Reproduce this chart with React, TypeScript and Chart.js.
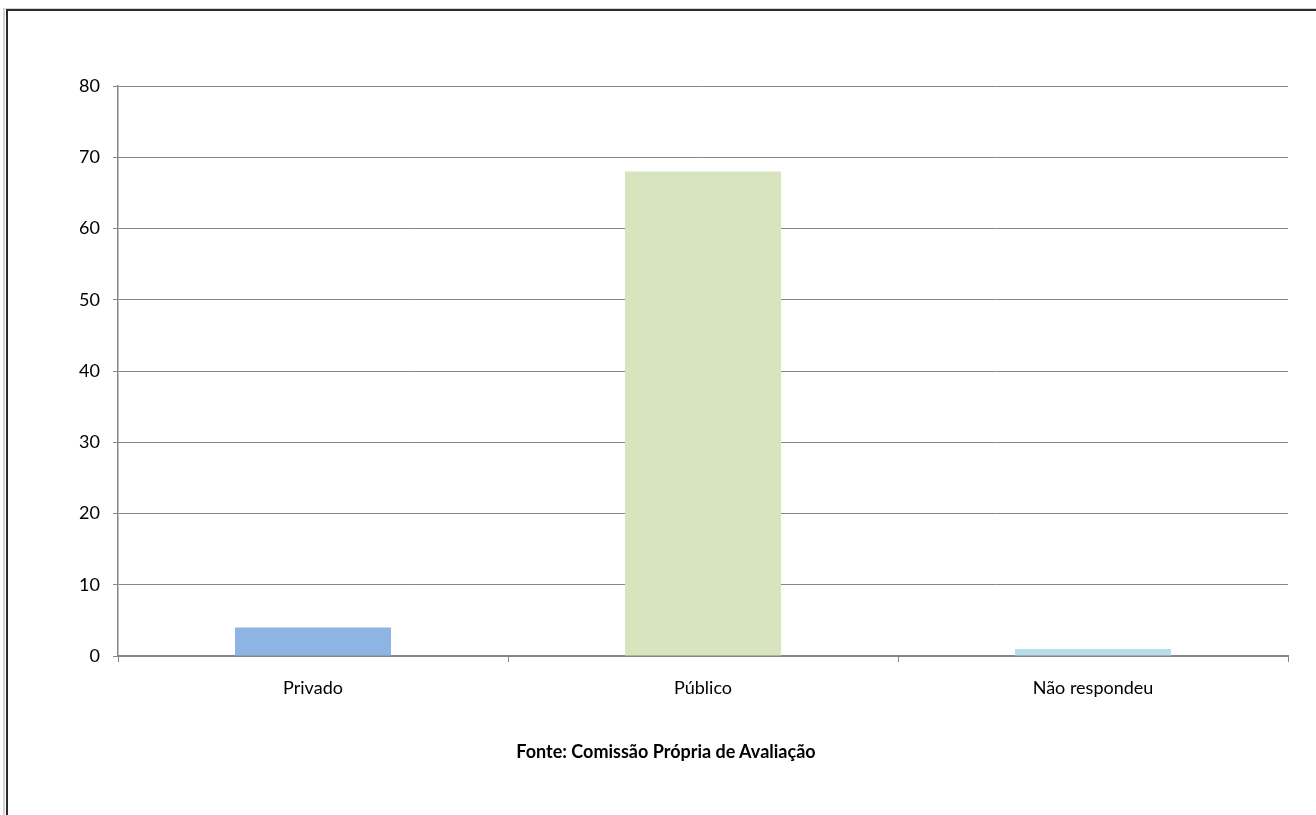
import React, { useEffect, useRef } from "react";
import { Chart, registerables } from "chart.js";

Chart.register(...registerables);

const categories = ["Privado", "Público", "Não respondeu"];
const values = [4, 68, 1];
const barColors = ["#8EB4E3", "#D7E4BD", "#B7DEE8"];
const yTicks = [0, 10, 20, 30, 40, 50, 60, 70, 80];
const sourceText = "Fonte: Comissão Própria de Avaliação";

export default function App() {
  const ref = useRef<HTMLCanvasElement | null>(null);

  useEffect(() => {
    if (!ref.current) return;
    const chart = new Chart(ref.current, {
      type: "bar",
      data: {
        labels: categories,
        datasets: [
          {
            data: values,
            backgroundColor: barColors,
            borderWidth: 0,
            categoryPercentage: 0.4,
            barPercentage: 1,
          },
        ],
      },
      options: {
        animation: false,
        responsive: false,
        maintainAspectRatio: false,
        plugins: { legend: { display: false }, tooltip: { enabled: false } },
        layout: { padding: { left: 20, top: 86, right: 28, bottom: 99 } },
        scales: {
          x: {
            grid: {
              offset: true,
              drawOnChartArea: false,
              drawTicks: true,
              tickLength: 6,
              color: "#868686",
              lineWidth: 1,
            },
            border: { color: "#868686", width: 2 },
            ticks: {
              padding: 15,
              color: "#000",
              font: { family: "Lato", size: 18 },
              maxRotation: 0,
            },
            afterFit: (s: any) => {
              s.height = 60;
            },
          },
          y: {
            min: 0,
            max: 80,
            afterBuildTicks: (s: any) => {
              s.ticks = yTicks.map((v) => ({ value: v }));
            },
            grid: {
              color: "#868686",
              lineWidth: 1,
              drawTicks: true,
              tickLength: 5,
            },
            border: { color: "#868686", width: 1.5 },
            ticks: {
              padding: 13,
              color: "#000",
              font: { family: "Lato", size: 18 },
            },
            afterFit: (s: any) => {
              s.width = 98;
            },
          },
        },
      },
    });
    return () => chart.destroy();
  }, []);

  return (
    <div
      style={{
        position: "fixed",
        left: 0,
        top: 0,
        width: 1316,
        height: 815,
        background: "#fff",
        overflow: "hidden",
      }}
    >
      <canvas ref={ref} width={1316} height={815} style={{ position: "absolute", left: 0, top: 0 }} />
      <div style={{ position: "absolute", left: 4, top: 8, width: 1312, height: 1, background: "#d4d4d4" }} />
      <div style={{ position: "absolute", left: 6, top: 9, width: 1310, height: 2, background: "#2b2b2b" }} />
      <div style={{ position: "absolute", left: 3, top: 8, width: 2, height: 807, background: "#d4d4d4" }} />
      <div style={{ position: "absolute", left: 6, top: 9, width: 2, height: 806, background: "#2b2b2b" }} />
      <div
        style={{
          position: "absolute",
          left: 166,
          top: 740,
          width: 1000,
          textAlign: "center",
          fontFamily: "Lato",
          fontWeight: 700,
          fontSize: 18,
          lineHeight: "22px",
          color: "#000",
        }}
      >
        {sourceText}
      </div>
    </div>
  );
}
